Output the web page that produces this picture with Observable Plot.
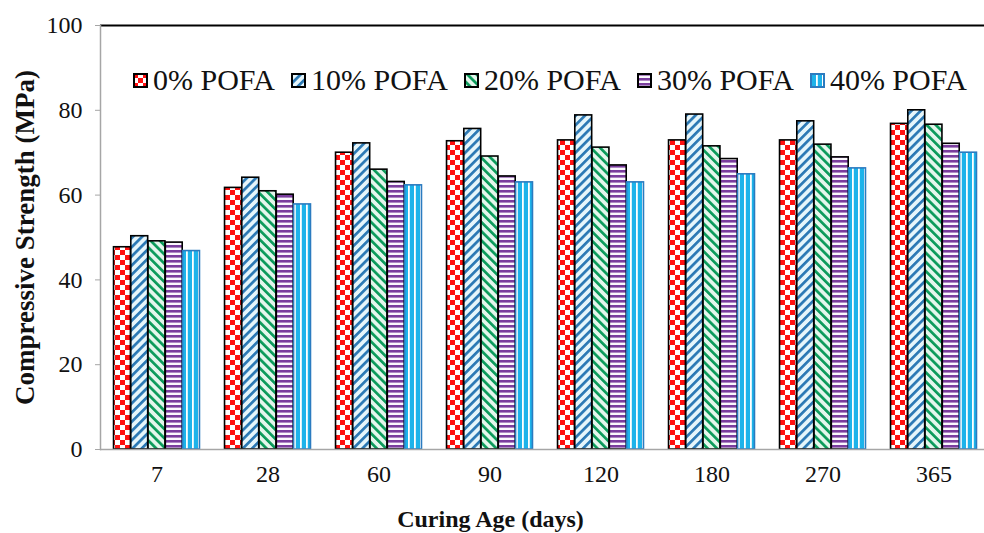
<!DOCTYPE html>
<html><head><meta charset="utf-8">
<script src="https://cdn.jsdelivr.net/npm/d3@7"></script>
<script src="https://cdn.jsdelivr.net/npm/@observablehq/plot@0.6"></script>
<style>
body{margin:0;background:#fff;}
#wrap{position:relative;width:984px;height:533px;overflow:hidden;font-family:"Liberation Serif","Times New Roman",serif;}
#legend{position:absolute;left:133px;top:61px;display:flex;align-items:center;gap:16px;font-size:30px;color:#111;line-height:38px;}
.item{display:flex;align-items:center;gap:5px;white-space:nowrap;}
.item svg{display:block;}
</style></head><body>
<svg width="0" height="0" style="position:absolute">
  <defs>
    <pattern id="p0" patternUnits="userSpaceOnUse" width="10" height="10">
      <rect width="10" height="10" fill="#ffffff"/>
      <rect x="0" y="0" width="5" height="5" fill="#ff1010"/>
      <rect x="5" y="5" width="5" height="5" fill="#ff1010"/>
    </pattern>
    <pattern id="p1" patternUnits="userSpaceOnUse" width="6.5" height="6.5" patternTransform="rotate(45)">
      <rect width="6.5" height="6.5" fill="#e6f6fb"/>
      <rect x="0" y="0" width="2.7" height="6.5" fill="#2a78b4"/>
    </pattern>
    <pattern id="p2" patternUnits="userSpaceOnUse" width="6.5" height="6.5" patternTransform="rotate(-45)">
      <rect width="6.5" height="6.5" fill="#e4f6ec"/>
      <rect x="0" y="0" width="2.7" height="6.5" fill="#0a9a5a"/>
    </pattern>
    <pattern id="p3" patternUnits="userSpaceOnUse" width="5" height="5">
      <rect width="5" height="5" fill="#fbf8fd"/>
      <rect x="0" y="0" width="5" height="2.6" fill="#7a3d9e"/>
    </pattern>
    <pattern id="p4" patternUnits="userSpaceOnUse" width="6" height="6">
      <rect width="6" height="6" fill="#1db3ea"/>
      <rect x="0" y="0" width="1.8" height="6" fill="#ffffff"/>
    </pattern>
  </defs>
</svg>
<div id="wrap"><div id="legend"></div></div>
<script>
const ages = ["7", "28", "60", "90", "120", "180", "270", "365"];
const series = ["0% POFA", "10% POFA", "20% POFA", "30% POFA", "40% POFA"];
const pofa0  = [47.7, 61.7, 70.0, 72.7, 72.9, 72.9, 72.9, 76.8];
const pofa10 = [50.3, 64.1, 72.2, 75.6, 78.8, 79.0, 77.4, 80.0];
const pofa20 = [49.1, 60.9, 66.0, 69.1, 71.2, 71.5, 71.9, 76.6];
const pofa30 = [48.8, 60.1, 63.1, 64.4, 67.0, 68.5, 68.9, 72.1];
const pofa40 = [46.8, 57.8, 62.3, 63.0, 63.0, 64.9, 66.3, 70.0];
const yTicks = [0, 20, 40, 60, 80, 100];

const values = [pofa0, pofa10, pofa20, pofa30, pofa40];
const fills = ["url(#p0)", "url(#p1)", "url(#p2)", "url(#p3)", "url(#p4)"];
const strokes = ["#000", "#000", "#000", "#000", "#2b7bc0"];
const serif = "'Liberation Serif', 'Times New Roman', serif";

const data = [];
series.forEach((s, i) => ages.forEach((a, j) => data.push({series: s, age: a, value: values[i][j]})));

const xRange = [99.5, 990.5];
const step = (xRange[1] - xRange[0]) / ages.length;
const frac = 0.775;
const gap = step * (1 - frac) / 2;
const bw = step * frac / series.length;

const marks = [
  Plot.ruleY([100], {stroke: "#000", strokeWidth: 2}),
  ...series.map((s, i) => Plot.barY(data.filter(d => d.series === s), {
    x: "age", y: "value", fill: fills[i], stroke: strokes[i], strokeWidth: 1.6,
    insetLeft: gap + i * bw, insetRight: gap + (series.length - 1 - i) * bw
  })),
  Plot.ruleY([0], {stroke: "#a6a6a6", strokeWidth: 1.5}),
  Plot.frame({anchor: "left", stroke: "#a6a6a6", strokeWidth: 1.5}),
  Plot.axisY({ticks: yTicks, tickSize: 5, tickPadding: 13, stroke: "#a6a6a6", fill: "#111", fontSize: 24, fontFamily: serif, label: null}),
  Plot.axisX({tickSize: 0, tickPadding: 15, fill: "#111", fontSize: 24, fontFamily: serif, label: null}),
  Plot.text(["Compressive Strength (MPa)"], {frameAnchor: "left", textAnchor: "middle", dx: -75, rotate: -90, fontSize: 27, fontWeight: "bold", fontFamily: serif, fill: "#111"}),
  Plot.text(["Curing Age (days)"], {frameAnchor: "bottom", textAnchor: "middle", dx: -52, dy: 77, fontSize: 24, fontWeight: "bold", fontFamily: serif, fill: "#111"})
];

const chart = Plot.plot({
  width: 984, height: 533,
  marginLeft: 100, marginRight: 0, marginTop: 25, marginBottom: 84,
  x: {type: "band", domain: ages, range: xRange, padding: 0},
  y: {domain: [0, 100]},
  style: {fontFamily: serif, background: "#fff", overflow: "hidden"},
  marks
});
const wrap = document.getElementById("wrap");
wrap.insertBefore(chart, wrap.firstChild);

const legend = document.getElementById("legend");
series.forEach((s, i) => {
  const item = document.createElement("div");
  item.className = "item";
  item.innerHTML = `<svg width="15" height="15"><rect x="1" y="1" width="13" height="13" fill="${fills[i]}" stroke="${strokes[i]}" stroke-width="2"/></svg><span>${s}</span>`;
  legend.appendChild(item);
});
</script>
</body></html>
